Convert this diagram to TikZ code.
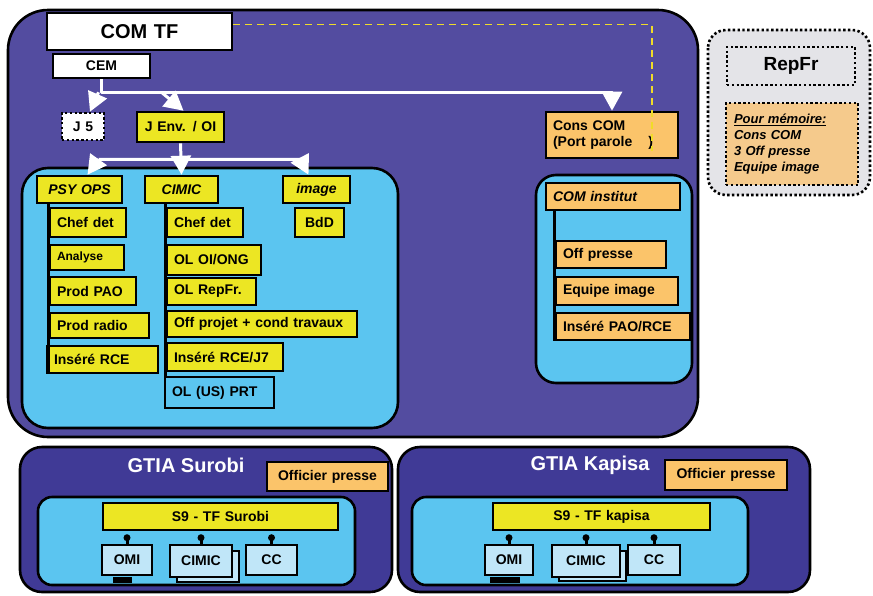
\documentclass[tikz,border=0pt]{standalone}
\usepackage{fontspec}
\setmainfont{Liberation Sans}
\usepackage{xcolor}
\usepackage{tikz}
\usetikzlibrary{arrows.meta,positioning,calc}

\definecolor{compurple}{RGB}{83,76,160}
\definecolor{gtiapurple}{RGB}{64,58,150}
\definecolor{panelblue}{RGB}{91,197,240}
\definecolor{paleblue}{RGB}{192,230,248}
\definecolor{boxyellow}{RGB}{236,230,35}
\definecolor{boxorange}{RGB}{251,196,106}
\definecolor{memoorange}{RGB}{245,202,140}
\definecolor{memogray}{RGB}{228,228,232}
\definecolor{dashyellow}{RGB}{240,220,40}

\tikzset{
  base/.style={draw=black, line width=2.6pt, inner xsep=7pt, inner ysep=1pt,
    font=\fontsize{14}{16}\selectfont\bfseries, align=left},
  ybox/.style={base, fill=boxyellow},
  obox/.style={base, fill=boxorange},
  wbox/.style={base, fill=white, align=center},
  hbox/.style={base, fill=boxyellow, align=center, font=\fontsize{14}{16}\selectfont\bfseries\itshape},
  mini/.style={base, fill=paleblue, align=center, inner xsep=2pt},
  dotbox/.style={base, dash pattern=on 2.4pt off 2.4pt},
  panel/.style={draw=black, line width=2.6pt},
  treeline/.style={draw=black, line width=3pt},
  warr/.style={draw=white, line width=3pt, line join=round, -{Triangle[width=20pt,length=19pt]}},
}

\begin{document}
\begin{tikzpicture}[x=1pt, y=-1pt]
    \useasboundingbox (0,0) rectangle (873,595);
    % box from corners: name, x1, y1, x2, y2, style, text
    \def\orgbox#1#2#3#4#5#6#7{%
        \pgfmathsetmacro\bw{#4-#2}%
        \pgfmathsetmacro\tw{#4-#2-14}%
        \pgfmathsetmacro\bh{#5-#3}%
        \node[#6, text width=\tw pt, minimum width=\bw pt, minimum height=\bh pt] (#1) at ({(#2+#4)/2},{(#3+#5)/2}) {#7};}

    % COM TF
    \draw[panel, fill=compurple, rounded corners=40pt] (8,10) rectangle (698,437);
    \draw[panel, fill=panelblue, rounded corners=26pt] (22,168) rectangle (398,428);
    \draw[panel, fill=panelblue, rounded corners=20pt] (536,175) rectangle (692,383);

    \orgbox{comtf}{47}{13}{232}{50}{wbox, font=\fontsize{20}{22}\selectfont\bfseries}{COM TF}
    \orgbox{cem}{53}{54}{150}{78}{wbox}{CEM}
    \orgbox{j5}{62}{113}{104}{140}{dotbox, fill=white, align=center, inner xsep=2pt}{J 5}
    \orgbox{jenv}{137}{112}{224}{142}{ybox, align=center, inner xsep=2pt}{J Env. / OI}
    \orgbox{cons}{546}{112}{678}{158}{obox}{Cons COM\\(Port parole\hspace{16pt})}

    \draw[dashyellow, line width=1.8pt, dash pattern=on 7pt off 5pt]
        ([yshift=7pt]comtf.east) -| ([xshift=40pt,yshift=8pt]cons.south);

    % headers
    \orgbox{psy}{37}{176}{122}{203}{hbox, inner xsep=2pt}{PSY OPS}
    \orgbox{cimic}{145}{176}{218}{203}{hbox, inner xsep=2pt}{CIMIC}
    \orgbox{img}{283}{176}{350}{203}{hbox, inner xsep=2pt}{image}
    \orgbox{bdd}{295}{208}{344}{237}{ybox, align=center, inner xsep=2pt}{BdD}

    \foreach \nm/\ya/\xb/\yb/\txt in {chefa/208/126/237/Chef det,
        ana/245/124/270/{\fontsize{12}{14}\selectfont Analyse},
        pao/277/136/305/Prod PAO, radio/313/149/338/Prod radio}
        \orgbox{\nm}{50}{\ya}{\xb}{\yb}{ybox}{\txt};
    \orgbox{rcea}{47}{346}{158}{373}{ybox}{Inséré RCE}

    \foreach \nm/\ya/\xb/\yb/\txt in {chefb/208/243/237/Chef det,
        oloi/245/261/275/{OL OI/ONG}, olrep/278/256/305/OL RepFr.,
        offp/311/357/337/Off projet + cond travaux, rceb/343/283/371/{Inséré RCE/J7}}
        \orgbox{\nm}{167}{\ya}{\xb}{\yb}{ybox}{\txt};
    \orgbox{prt}{165}{377}{274}{408}{base, fill=panelblue}{OL (US) PRT}

    \draw[treeline] (psy.south -| chefa.west) -- (chefa.west |- rcea.south);
    \draw[treeline] (cimic.south -| chefb.west) -- (chefb.west |- prt.north);

    % COM institut
    \orgbox{cominst}{546}{183}{680}{210}{obox, font=\fontsize{14}{16}\selectfont\bfseries\itshape}{COM institut}
    \orgbox{offpr}{556}{241}{666}{268}{obox}{Off presse}
    \orgbox{eqim}{556}{277}{678}{305}{obox}{Equipe image}
    \orgbox{paorce}{556}{313}{690}{340}{obox, inner xsep=5pt}{Inséré PAO/RCE}
    \draw[treeline] (cominst.south -| offpr.west) -- (offpr.west |- paorce.south);

    % white arrows
    \coordinate (cemj) at ([yshift=-13pt]cem.south);
    \coordinate (jenvj) at ([yshift=-16pt]jenv.south);
    \draw[warr] (cem.south) -- (cemj) -- (cemj -| cons.north) -- (cons.north);
    \draw[warr] ([xshift=-3pt]cemj) -- ([xshift=7pt]j5.north);
    \draw[warr] ([xshift=60pt]cemj) -- ([xshift=3pt]jenv.north);
    \draw[warr] ([xshift=-82pt]jenvj) -- ([xshift=8pt]psy.north);
    \draw[warr] (jenv.south) -- (cimic.north);
    \draw[warr] ([xshift=-82pt]jenvj) -- ([xshift=120pt]jenvj) -- ([xshift=-8pt]img.north);

    % RepFr
    \draw[panel, dash pattern=on 2.4pt off 2.4pt, fill=memogray, rounded corners=18pt] (708,30) rectangle (870,195);
    \orgbox{repfr}{727}{47}{855}{85}{dotbox, fill=memogray, align=center, font=\fontsize{19}{21}\selectfont\bfseries}{RepFr}
    \orgbox{memo}{727}{103}{857}{185}{dotbox, fill=memoorange, inner xsep=8pt, font=\fontsize{13}{16}\selectfont\bfseries\itshape}
        {\underline{Pour mémoire:}\\Cons COM\\3 Off presse\\Equipe image}

    % GTIA
    \draw[panel, fill=gtiapurple, rounded corners=22pt] (20,447) rectangle (392,592);
    \draw[panel, fill=gtiapurple, rounded corners=22pt] (398,447) rectangle (810,592);
    \node[text=white, font=\fontsize{20}{22}\selectfont\bfseries] (gtias) at (186,465) {GTIA Surobi};
    \node[text=white, font=\fontsize{20}{22}\selectfont\bfseries] (gtiak) at (590,465) {GTIA Kapisa};
    \orgbox{opa}{267}{462}{388}{491}{obox, align=center, inner xsep=2pt}{Officier presse}
    \orgbox{opb}{665}{460}{787}{490}{obox, align=center, inner xsep=2pt}{Officier presse}
    \draw[panel, fill=panelblue, rounded corners=14pt] (38,497) rectangle (355,585);
    \draw[panel, fill=panelblue, rounded corners=14pt] (412,497) rectangle (748,585);
    \orgbox{s9a}{103}{503}{338}{530}{ybox, align=center}{S9 - TF Surobi}
    \orgbox{s9b}{493}{503}{710}{530}{ybox, align=center}{S9 - TF kapisa}

    \draw[fill=paleblue, line width=1.6pt] (177,551) rectangle (239,582);
    \draw[fill=paleblue, line width=1.6pt] (559,551) rectangle (626,581);
    \fill (113,577) rectangle (132,583);
    \fill (490,577) rectangle (520,583);
    \orgbox{omia}{102}{545}{152}{575}{mini}{OMI}
    \orgbox{cimica}{170}{545}{232}{577}{mini}{CIMIC}
    \orgbox{cca}{246}{545}{297}{575}{mini}{CC}
    \orgbox{omib}{485}{545}{533}{575}{mini}{OMI}
    \orgbox{cimicb}{552}{545}{620}{577}{mini}{CIMIC}
    \orgbox{ccb}{628}{545}{680}{575}{mini}{CC}
    \foreach \b in {omia,cimica,cca,omib,cimicb,ccb} {
        \draw[treeline] (\b.north) -- ([yshift=6pt]\b.north);
        \fill ([yshift=6pt]\b.north) circle (3.5pt);
    }
\end{tikzpicture}
\end{document}
